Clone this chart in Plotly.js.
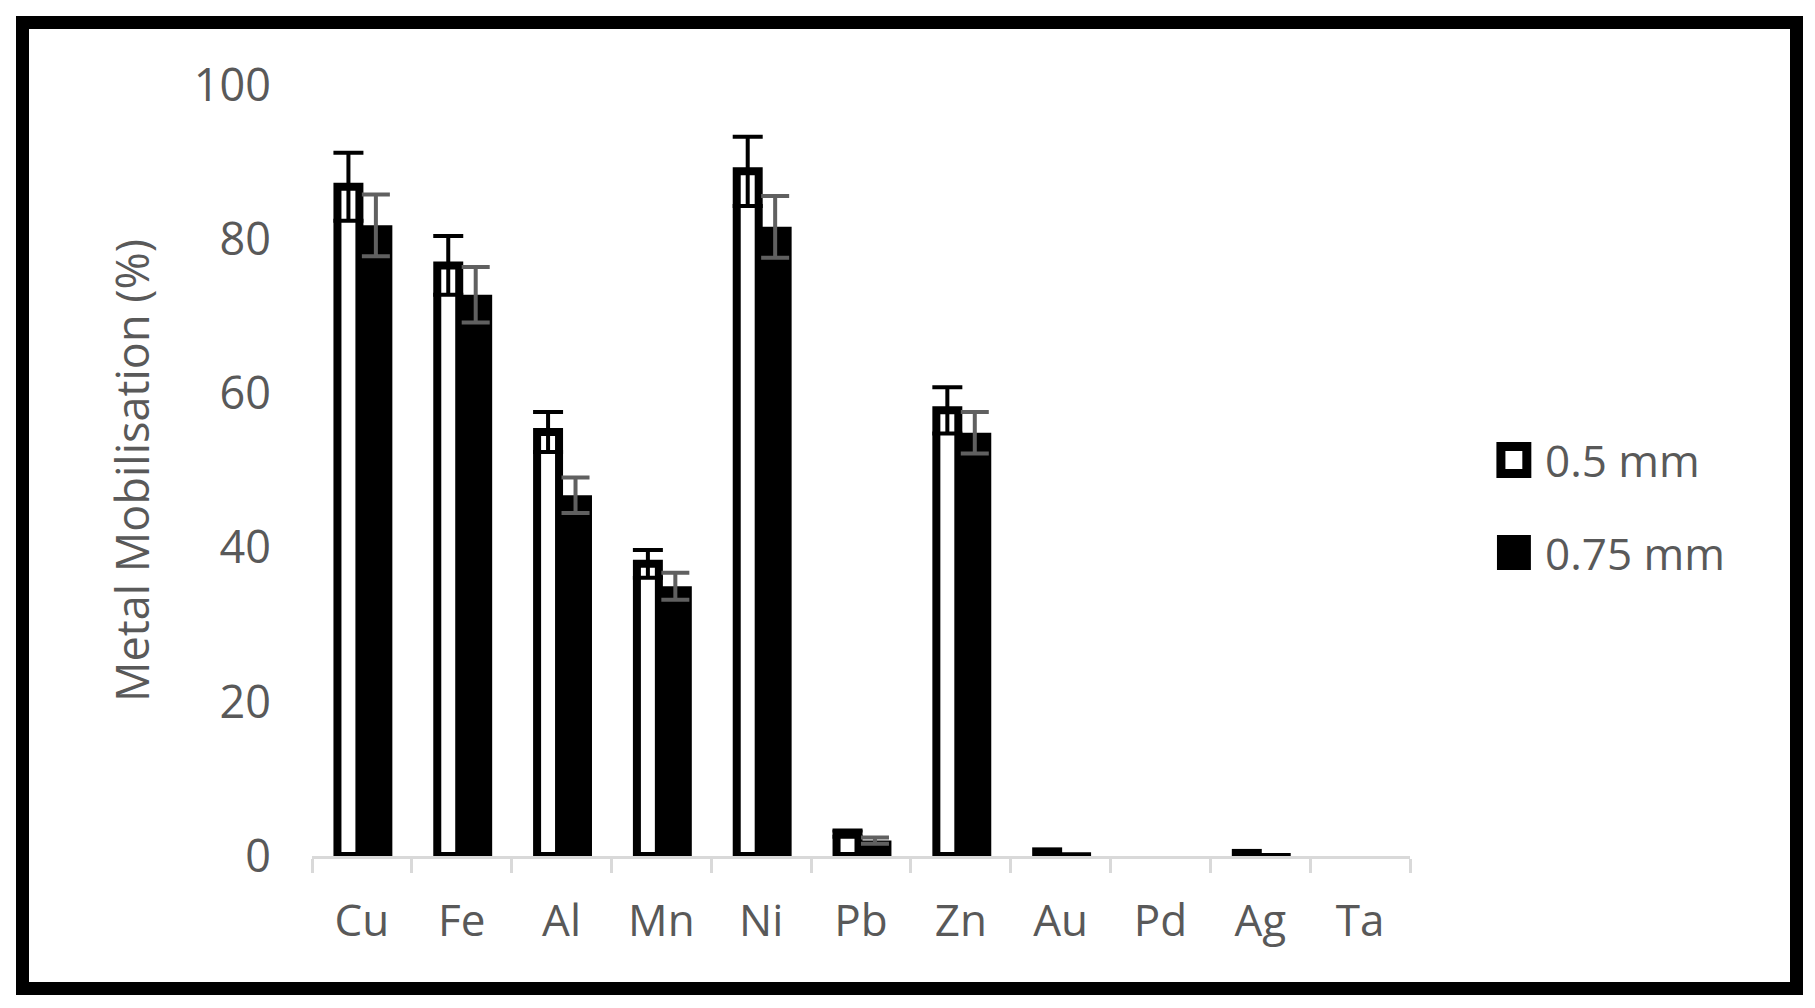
<!DOCTYPE html>
<html>
<head>
<meta charset="utf-8">
<script src="https://cdn.plot.ly/plotly-3.0.1.min.js"></script>
<style>
  body { margin: 0; background: #fff; }
  #frame {
    position: absolute; left: 16px; top: 16px;
    width: 1787px; height: 979px; box-sizing: border-box;
    border: 13px solid #000; background: #fff;
  }
  #plot { width: 1761px; height: 953px; }
</style>
</head>
<body>
<div id="frame"><div id="plot"></div></div>
<script>
// Metals on the x axis
const metals = ["Cu", "Fe", "Al", "Mn", "Ni", "Pb", "Zn", "Au", "Pd", "Ag", "Ta"];

// Mobilisation (%) for the two particle sizes
const fine = [86.8, 76.6, 55.0, 37.9, 88.8, 2.9, 57.8, 0.6, 0, 0.4, 0];
const fineErr = [4.4, 3.8, 2.6, 1.8, 4.5, 0.4, 3.0, null, null, null, null];
const coarse = [81.8, 72.8, 46.8, 35.0, 81.6, 2.0, 54.9, 0.5, 0, 0.4, 0];
const coarseErr = [4.0, 3.6, 2.3, 1.75, 4.0, 0.4, 2.7, null, null, null, null];

const seriesNames = ["0.5 mm", "0.75 mm"];

const grey = "#595959";
const font = "Open Sans, Liberation Sans, sans-serif";

// null -> NaN so that no error bar gets drawn at all
const errArr = a => a.map(v => v === null ? NaN : v);
// zero bars get no outline (Excel draws nothing there)
const outline = a => a.map(v => v === 0 ? 0 : 8);

let traces = [
    {
        x: metals, y: fine, type: "bar", name: seriesNames[0],
        offset: -0.245, width: 0.22,
        marker: { color: "#ffffff", line: { color: "#000000", width: outline(fine) } },
        error_y: { type: "data", array: errArr(fineErr), color: "#000000", thickness: 4, width: 15 }
    },
    {
        x: metals, y: coarse, type: "bar", name: seriesNames[1],
        offset: -0.025, width: 0.33,
        marker: { color: "#000000", line: { width: 0 } },
        error_y: { type: "data", array: errArr(coarseErr), color: "#606060", thickness: 4, width: 14 }
    }
];

// hand-made legend: big squares like the original
let legendY = [0.5135, 0.3935];
let shapes = [
    { type: "rect", xref: "paper", yref: "paper", x0: 1.0828, x1: 1.1064, y0: legendY[0] - 0.0175, y1: legendY[0] + 0.0175,
      fillcolor: "#ffffff", line: { color: "#000000", width: 9 } },
    { type: "rect", xref: "paper", yref: "paper", x0: 1.0792, x1: 1.1101, y0: legendY[1] - 0.0227, y1: legendY[1] + 0.0227,
      fillcolor: "#000000", line: { width: 0 } }
];
let annotations = seriesNames.map((name, i) => ({
    text: name, xref: "paper", yref: "paper", x: 1.121, y: legendY[i],
    xanchor: "left", yanchor: "middle", showarrow: false,
    font: { family: font, size: 44, color: grey }
}));

let layout = {
    width: 1761, height: 953,
    margin: { l: 283, r: 380, t: 56, b: 126 },
    paper_bgcolor: "#ffffff", plot_bgcolor: "#ffffff",
    barmode: "overlay",
    showlegend: false,
    font: { family: font, color: grey },
    xaxis: {
        type: "category", range: [-0.5, 10.5],
        tickson: "boundaries", ticks: "outside", ticklen: 14, tickwidth: 3, tickcolor: "#d9d9d9",
        showline: true, linecolor: "#d9d9d9", linewidth: 3,
        showgrid: false, zeroline: false,
        ticklabelstandoff: 24,
        tickfont: { family: font, size: 44, color: grey }
    },
    yaxis: {
        range: [0, 100], dtick: 20, showgrid: false, zeroline: false, showline: false, ticks: "",
        ticklabelstandoff: 40,
        tickfont: { family: font, size: 45, color: grey },
        title: { text: "Metal Mobilisation (%)", standoff: 30, font: { family: font, size: 45, color: grey } }
    },
    shapes: shapes,
    annotations: annotations
};

Plotly.newPlot("plot", traces, layout, { displayModeBar: false, staticPlot: true });
</script>
</body>
</html>
